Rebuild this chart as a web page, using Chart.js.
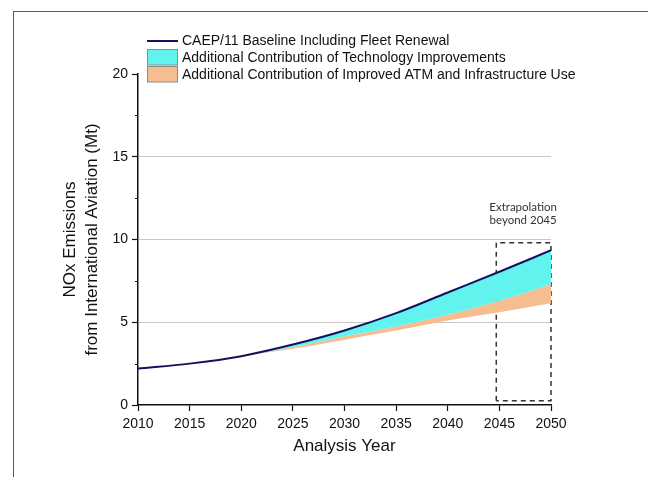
<!doctype html>
<html lang="en">
  <head>
    <meta charset="utf-8">
    <title>NOx Emissions from International Aviation</title>
    <script src="https://cdn.jsdelivr.net/npm/chart.js"></script>
    <style>
      body { margin: 0; background: #fff; }
      #wrap { position: relative; width: 648px; height: 477px; }
      #frame { position: absolute; left: 13px; top: 11px; right: 0; bottom: 0;
               border-top: 1px solid #5a5a5a; border-left: 1px solid #5a5a5a; pointer-events: none; }
    </style>
  </head>
  <body>
    <div id="wrap">
      <canvas id="noxChart" width="648" height="477"></canvas>
      <div id="frame"></div>
    </div>

    <script>
  // data (Mt NOx)
  const years = [2010, 2015, 2020, 2025, 2030, 2035, 2040, 2045, 2050];
  const baseline = [2.2, 2.5, 2.95, 3.65, 4.5, 5.55, 6.8, 8.05, 9.35];
  const techLevel = [2.2, 2.5, 2.95, 3.5, 4.15, 4.75, 5.45, 6.3, 7.3];
  const atmLevel = [2.2, 2.5, 2.95, 3.4, 3.95, 4.5, 5.1, 5.6, 6.15];

  const yTicks = [0, 5, 10, 15, 20];
  const minorYTicks = [2.5, 7.5, 12.5, 17.5];
  const xTicks = [2010, 2015, 2020, 2025, 2030, 2035, 2040, 2045, 2050];

  // extrapolation box (years, Mt)
  const boxYears = [2044.7, 2050];
  const boxValues = [0.25, 9.8];
  const boxNote = ['Extrapolation', 'beyond 2045'];

  const legendLabels = [
    'CAEP/11 Baseline Including Fleet Renewal',
    'Additional Contribution of Technology Improvements',
    'Additional Contribution of Improved ATM and Infrastructure Use'
  ];

  const NAVY = '#12125e';
  const CYAN = '#63f3ef';
  const PEACH = '#f6bd90';
  const FONT = "'Liberation Sans', Arial, sans-serif";

  function toPoints(xs, ys) {
    return xs.map((x, i) => ({x: x, y: ys[i]}));
  }

  const boxPoints = [
    {x: boxYears[0], y: boxValues[0]},
    {x: boxYears[0], y: boxValues[1]},
    {x: boxYears[1], y: boxValues[1]},
    {x: boxYears[1], y: boxValues[0]},
    {x: boxYears[0], y: boxValues[0]}
  ];

  // legend, note text and minor ticks
  const extras = {
    id: 'extras',
    afterDraw(chart) {
      const ctx = chart.ctx;
      const xs = chart.scales.x, ys = chart.scales.y;
      ctx.save();

      // minor ticks on y
      ctx.strokeStyle = '#111';
      ctx.lineWidth = 1;
      minorYTicks.forEach(v => {
        const py = Math.round(ys.getPixelForValue(v)) + 0.5;
        ctx.beginPath();
        ctx.moveTo(xs.left - 3, py);
        ctx.lineTo(xs.left, py);
        ctx.stroke();
      });

      // note above the box
      ctx.fillStyle = '#333';
      ctx.font = "11.5px Lato, 'Open Sans', sans-serif";
      ctx.textAlign = 'center';
      ctx.textBaseline = 'middle';
      const nx = xs.getPixelForValue(2047.3);
      ctx.fillText(boxNote[0], nx, ys.getPixelForValue(11.95));
      ctx.fillText(boxNote[1], nx, ys.getPixelForValue(11.15));

      // legend
      const lx = 147, tx = 182;
      const rows = [45.3, 62, 78.7];
      ctx.font = '14px ' + FONT;
      ctx.textAlign = 'left';
      ctx.textBaseline = 'alphabetic';
      ctx.fillStyle = '#111';
      legendLabels.forEach((t, i) => ctx.fillText(t, tx, rows[i]));

      ctx.strokeStyle = NAVY;
      ctx.lineWidth = 2;
      ctx.beginPath();
      ctx.moveTo(lx, 41);
      ctx.lineTo(lx + 31, 41);
      ctx.stroke();

      ctx.lineWidth = 1;
      ctx.strokeStyle = '#8a8a8a';
      ctx.fillStyle = CYAN;
      ctx.fillRect(lx, 49.5, 30, 15.5);
      ctx.strokeRect(lx + 0.5, 49.5, 30, 15.5);
      ctx.fillStyle = PEACH;
      ctx.fillRect(lx, 66.5, 30, 15.5);
      ctx.strokeRect(lx + 0.5, 66.5, 30, 15.5);

      ctx.restore();
    }
  };

  const ctx = document.getElementById('noxChart').getContext('2d');
  const chart = new Chart(ctx, {
    type: 'line',
    data: {
      datasets: [
        {
          label: legendLabels[0],
          data: toPoints(years, baseline),
          borderColor: NAVY,
          borderWidth: 2,
          backgroundColor: CYAN,
          fill: {target: 1},
          cubicInterpolationMode: 'monotone',
          pointRadius: 0
        },
        {
          label: legendLabels[1],
          data: toPoints(years, techLevel),
          borderWidth: 0,
          borderColor: 'rgba(0,0,0,0)',
          backgroundColor: PEACH,
          fill: {target: 2},
          cubicInterpolationMode: 'monotone',
          pointRadius: 0
        },
        {
          label: legendLabels[2],
          data: toPoints(years, atmLevel),
          borderWidth: 0,
          borderColor: 'rgba(0,0,0,0)',
          backgroundColor: PEACH,
          fill: false,
          cubicInterpolationMode: 'monotone',
          pointRadius: 0
        },
        {
          label: 'box',
          data: boxPoints,
          borderColor: '#333',
          borderWidth: 1.5,
          borderDash: [5, 4],
          fill: false,
          tension: 0,
          pointRadius: 0,
          clip: false
        }
      ]
    },
    options: {
      responsive: false,
      animation: false,
      events: [],
      layout: {padding: {top: 74, right: 97, left: 0, bottom: 0}},
      plugins: {
        legend: {display: false},
        tooltip: {enabled: false}
      },
      scales: {
        x: {
          type: 'linear',
          min: 2010,
          max: 2050,
          afterFit: s => { s.height = 72; },
          afterBuildTicks: s => { s.ticks = xTicks.map(v => ({value: v})); },
          ticks: {
            color: '#111',
            font: {family: FONT, size: 14},
            padding: 5,
            maxRotation: 0,
            callback: v => String(v)
          },
          grid: {drawOnChartArea: false, tickLength: 6, tickColor: '#111', tickWidth: 1.2},
          border: {color: '#111', width: 1.5},
          title: {
            display: true,
            text: 'Analysis Year',
            color: '#111',
            font: {family: FONT, size: 17, lineHeight: 1.2},
            padding: {top: 0, bottom: 20}
          }
        },
        y: {
          min: 0,
          max: 20,
          afterFit: s => { s.width = 138; },
          afterBuildTicks: s => { s.ticks = yTicks.map(v => ({value: v})); },
          ticks: {
            color: '#111',
            font: {family: FONT, size: 14},
            padding: 4
          },
          grid: {
            color: c => (c.tick && c.tick.value > 0 && c.tick.value < 20) ? '#c8c8c8' : 'rgba(0,0,0,0)',
            lineWidth: 1,
            tickLength: 6,
            tickColor: '#111',
            tickWidth: 1.2
          },
          border: {color: '#111', width: 1.5},
          title: {
            display: true,
            text: ['NOx Emissions', 'from International Aviation (Mt)'],
            color: '#111',
            font: {family: FONT, size: 17, lineHeight: 1.25},
            padding: {top: 60, bottom: 0}
          }
        }
      }
    },
    plugins: [extras]
  });
    </script>
  </body>
</html>
